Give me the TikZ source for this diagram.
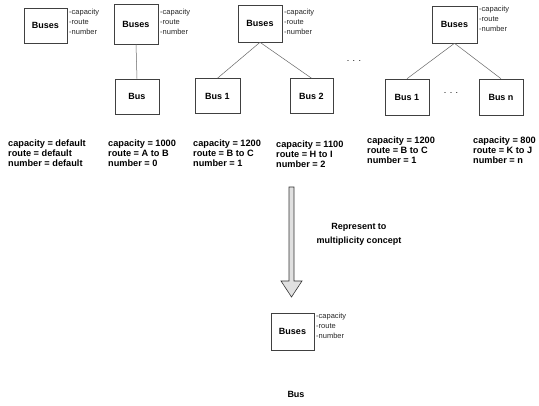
\documentclass[tikz,border=0pt]{standalone}
\usepackage{fontspec}
\setmainfont{Liberation Sans}
\begin{document}
\begin{tikzpicture}[x=1pt,y=-1pt,
  box/.style={draw=black!75,line width=0.6pt,inner sep=0pt},
  cls/.style={font=\fontsize{9}{10}\selectfont\bfseries},
  sub/.style={font=\fontsize{9}{10}\selectfont\bfseries},
  attr/.style={font=\fontsize{7.5}{9.7}\selectfont,align=left,anchor=north west,inner sep=0pt,text=black!85},
  vals/.style={font=\fontsize{9.2}{10}\selectfont\bfseries,align=left,anchor=north west,inner sep=0pt},
  link/.style={draw=black!60,line width=0.5pt},
  dots/.style={font=\fontsize{9}{10}\selectfont,inner sep=0pt}]
\useasboundingbox (0,0) rectangle (539,406);
% first: Buses alone
\node[box,minimum width=43,minimum height=35,cls] (b1) at (45.5,25.5) {Buses};
\node[attr] (a1) at (69,9) {-capacity\\-route\\-number};
% second
\node[box,minimum width=44,minimum height=40,cls] (b2) at (136,24) {Buses};
\node[attr] (a2) at (160,9) {-capacity\\-route\\-number};
\node[box,minimum width=44,minimum height=35,sub] (c2) at (137,96.5) {Bus};
\draw[link] (b2.south) -- (c2.north);
% third
\node[box,minimum width=44,minimum height=37,cls] (b3) at (260,23.5) {Buses};
\node[attr] (a3) at (284,9) {-capacity\\-route\\-number};
\node[box,minimum width=45,minimum height=35,sub] (c31) at (217.5,96) {Bus 1};
\node[box,minimum width=43,minimum height=35,sub] (c32) at (311.5,96) {Bus 2};
\draw[link] (b3.south) -- (c31.north);
\draw[link] (b3.south) -- (c32.north);
\node[dots] (d1) at (354,61) {. . .};
% fourth
\node[box,minimum width=45,minimum height=37,cls] (b4) at (454.5,24.5) {Buses};
\node[attr] (a4) at (479,6) {-capacity\\-route\\-number};
\node[box,minimum width=44,minimum height=36,sub] (c41) at (407,97) {Bus 1};
\node[box,minimum width=44,minimum height=36,sub] (c4n) at (501,97) {Bus n};
\draw[link] (b4.south) -- (c41.north);
\draw[link] (b4.south) -- (c4n.north);
\node[dots] (d2) at (451,93) {. . .};
% values
\node[vals] (v1) at (8,139.5) {capacity = default\\route = default\\number = default};
\node[vals] (v2) at (108,139.5) {capacity = 1000\\route = A to B\\number = 0};
\node[vals] (v3) at (193,139.5) {capacity = 1200\\route = B to C\\number = 1};
\node[vals] (v4) at (276,140.5) {capacity = 1100\\route = H to I\\number = 2};
\node[vals] (v5) at (367,136.5) {capacity = 1200\\route = B to C\\number = 1};
\node[vals] (v6) at (473,136.5) {capacity = 800\\route = K to J\\number = n};
% arrow
\draw[black!80,line width=0.6pt,fill=black!12] (289,187) -- (294,187) -- (294,281) -- (302,281) -- (291.5,297) -- (281,281) -- (289,281) -- cycle;
\node[font=\fontsize{9}{13.5}\selectfont\bfseries,align=center] (rep) at (359,234.5) {Represent to\\multiplicity concept};
% bottom
\node[box,minimum width=43,minimum height=37,cls] (b5) at (292.5,331.5) {Buses};
\node[attr] (a5) at (316,313) {-capacity\\-route\\-number};
\node[sub] (bus) at (296,394) {Bus};
\end{tikzpicture}
\end{document}
